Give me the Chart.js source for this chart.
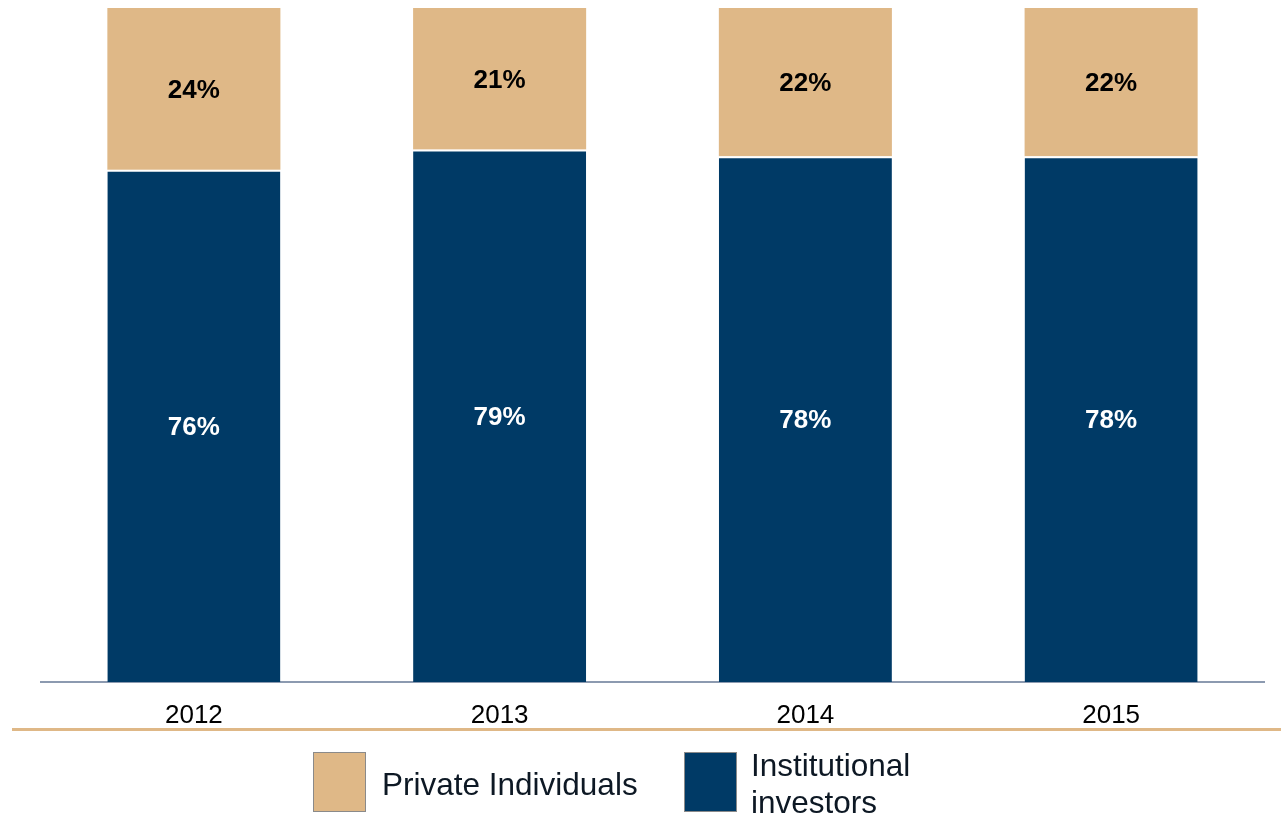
<!DOCTYPE html>
<html>
<head>
<meta charset="utf-8">
<script src="https://cdn.jsdelivr.net/npm/chart.js@4.4.1/dist/chart.umd.min.js"></script>
<style>
  html, body { margin: 0; padding: 0; background: #ffffff; }
  #wrap { position: relative; width: 1282px; height: 815px; }
</style>
</head>
<body>
<div id="wrap"><canvas id="c" width="1282" height="815"></canvas></div>
<script>
const categories = ["2012", "2013", "2014", "2015"];
const institutional = [76, 79, 78, 78];
const privateIndividuals = [24, 21, 22, 22];
const seriesNames = ["Private Individuals", "Institutional investors"];
const legendLines = [["Private Individuals"], ["Institutional", "investors"]];

const NAVY = "#003A66";
const TAN = "#DFB887";

const labelsPlugin = {
  id: "segLabels",
  afterDatasetsDraw(chart) {
    const ctx = chart.ctx;
    ctx.save();
    ctx.font = "bold 26px 'Liberation Sans', Arial, sans-serif";
    ctx.textAlign = "center";
    ctx.textBaseline = "middle";
    chart.data.datasets.forEach((ds, di) => {
      const meta = chart.getDatasetMeta(di);
      meta.data.forEach((bar, i) => {
        const p = bar.getCenterPoint();
        ctx.fillStyle = ds.labelColor;
        ctx.fillText(ds.data[i] + "%", p.x, p.y + 2);
      });
    });
    ctx.restore();
  }
};

const extrasPlugin = {
  id: "extras",
  afterDraw(chart) {
    const ctx = chart.ctx;
    ctx.save();
    // orange separator line
    ctx.fillStyle = TAN;
    ctx.fillRect(12, 728, 1269, 3);
    // legend: private first, then institutional
    const order = [1, 0];
    const boxX = [313, 684];
    order.forEach((di, k) => {
      const ds = chart.data.datasets[di];
      ctx.fillStyle = ds.backgroundColor;
      ctx.fillRect(boxX[k], 752, 53, 60);
      ctx.strokeStyle = "#8a8a8a";
      ctx.lineWidth = 1;
      ctx.strokeRect(boxX[k] + 0.5, 752.5, 52, 59);
      ctx.fillStyle = "#0d1824";
      ctx.font = "31.5px 'Liberation Sans', Arial, sans-serif";
      ctx.textAlign = "left";
      ctx.textBaseline = "alphabetic";
      const lines = legendLines[k];
      if (lines.length === 1) {
        ctx.fillText(lines[0], 382, 795);
      } else {
        ctx.fillText(lines[0], 751, 776);
        ctx.fillText(lines[1], 751, 813);
      }
    });
    ctx.restore();
  }
};

new Chart(document.getElementById("c"), {
  type: "bar",
  data: {
    labels: categories,
    datasets: [
      {
        label: seriesNames[1],
        data: institutional,
        backgroundColor: NAVY,
        borderColor: "#ffffff",
        borderWidth: { top: 2, left: 0, right: 0, bottom: 0 },
        borderSkipped: false,
        labelColor: "#ffffff",
        barPercentage: 0.566,
        categoryPercentage: 1
      },
      {
        label: seriesNames[0],
        data: privateIndividuals,
        backgroundColor: TAN,
        borderWidth: 0,
        labelColor: "#000000",
        barPercentage: 0.566,
        categoryPercentage: 1
      }
    ]
  },
  options: {
    responsive: false,
    animation: false,
    layout: { padding: { left: 41, right: 18, top: 8, bottom: 0 } },
    plugins: {
      legend: { display: false },
      tooltip: { enabled: false }
    },
    scales: {
      x: {
        stacked: true,
        grid: { display: false, drawTicks: false },
        border: { display: true, color: "#8C9AB0", width: 2 },
        ticks: {
          color: "#000000",
          font: { family: "'Liberation Sans', Arial, sans-serif", size: 26 },
          padding: 18
        },
        afterFit(s) { s.height = 133; }
      },
      y: {
        stacked: true,
        display: false,
        min: 0,
        max: 100
      }
    }
  },
  plugins: [labelsPlugin, extrasPlugin]
});
</script>
</body>
</html>
